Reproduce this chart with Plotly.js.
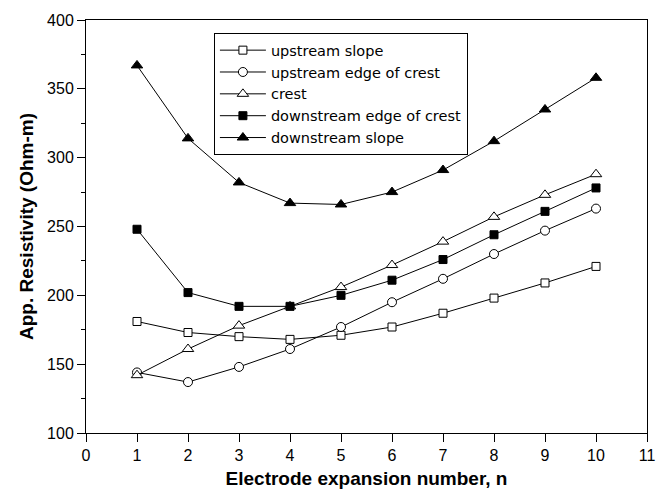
<!DOCTYPE html>
<html>
<head>
<meta charset="utf-8">
<script src="https://cdn.plot.ly/plotly-3.0.1.min.js"></script>
<style>
html,body{margin:0;padding:0;background:#fff;}
#chart{width:667px;height:497px;}
</style>
</head>
<body>
<div id="chart"></div>
<script>
const n = [1, 2, 3, 4, 5, 6, 7, 8, 9, 10];
const upstreamSlope = [181, 173, 170, 168, 171, 177, 187, 198, 209, 221];
const upstreamEdge = [144, 137, 148, 161, 177, 195, 212, 230, 247, 263];
const crest = [142, 161, 178, 192, 206, 222, 239, 257, 273, 288];
const downstreamEdge = [248, 202, 192, 192, 200, 211, 226, 244, 261, 278];
const downstreamSlope = [367, 314, 282, 267, 266, 275, 291, 312, 335, 358];
const seriesNames = ["upstream slope", "upstream edge of crest", "crest", "downstream edge of crest", "downstream slope"];
const xTicks = [0,1,2,3,4,5,6,7,8,9,10,11];
const yTicks = [100,150,200,250,300,350,400];

const styles = [
  {symbol: "square", fill: "#ffffff", size: 8},
  {symbol: "circle", fill: "#ffffff", size: 9},
  {symbol: "triangle-up", fill: "#ffffff", size: 10},
  {symbol: "square", fill: "#000000", size: 8},
  {symbol: "triangle-up", fill: "#000000", size: 10}
];
const allY = [upstreamSlope, upstreamEdge, crest, downstreamEdge, downstreamSlope];

const traces = allY.map((ys, i) => ({
  x: n, y: ys, name: seriesNames[i], type: "scatter", mode: "lines+markers",
  line: {color: "#000", width: 1},
  marker: {symbol: styles[i].symbol, size: styles[i].size, color: styles[i].fill, line: {color: "#000", width: 1}}
}));

const font = "Liberation Sans, Arial, sans-serif";
const layout = {
  width: 667, height: 497,
  margin: {l: 86, r: 20, t: 20, b: 64},
  paper_bgcolor: "#fff", plot_bgcolor: "#fff",
  showlegend: true,
  legend: {
    x: 0.228, y: 0.968, xanchor: "left", yanchor: "top",
    bordercolor: "#000", borderwidth: 1, bgcolor: "#fff",
    font: {family: "DejaVu Sans, sans-serif", size: 14.5, color: "#000"},
    tracegroupgap: 0, itemwidth: 46
  },
  xaxis: {
    range: [0, 11], tickvals: xTicks, ticktext: xTicks.map(String),
    showgrid: false, zeroline: false, showline: true, mirror: true,
    linecolor: "#000", linewidth: 1, ticks: "outside", ticklen: 8, tickcolor: "#000",
    tickfont: {family: font, size: 16, color: "#000"},
    title: {text: "<b>Electrode expansion number, n</b>", font: {family: font, size: 19, color: "#000"}, standoff: 8}
  },
  yaxis: {
    range: [100, 400], tickvals: yTicks, ticktext: yTicks.map(String),
    showgrid: false, zeroline: false, showline: true, mirror: true,
    linecolor: "#000", linewidth: 1, ticks: "outside", ticklen: 8, tickcolor: "#000",
    minor: {dtick: 25, ticks: "outside", ticklen: 4, tickcolor: "#000", showgrid: false},
    tickfont: {family: font, size: 16, color: "#000"},
    title: {text: "<b>App. Resistivity (Ohm-m)</b>", font: {family: font, size: 19, color: "#000"}, standoff: 8}
  }
};
Plotly.newPlot("chart", traces, layout, {displayModeBar: false, staticPlot: true});
</script>
</body>
</html>
